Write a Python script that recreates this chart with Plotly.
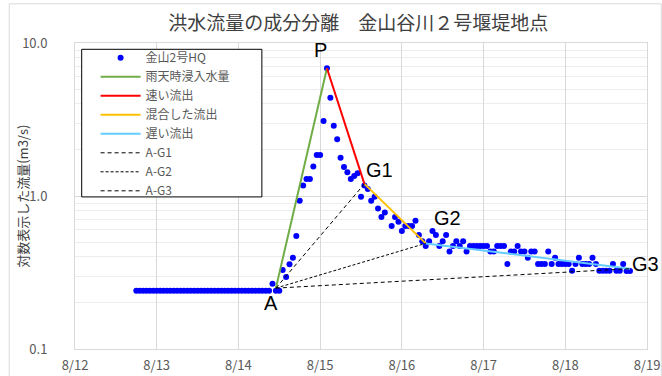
import math
import pandas as pd
import plotly.graph_objects as go

# Hourly H-Q discharge at 金山2号 (hours counted from 8/12 00:00), m3/s
hq_hours = [
    18, 19, 20, 21, 22, 23, 24, 25, 26, 27, 28, 29, 30, 31, 32, 33, 34, 35, 36, 37,
    38, 39, 40, 41, 42, 43, 44, 45, 46, 47, 48, 49, 50, 51, 52, 53, 54, 55, 56, 57,
    58, 59, 60, 61, 62, 63, 64, 65, 66, 67, 68, 69, 70, 71, 72, 73, 74, 75, 76, 77,
    78, 79, 80, 81, 82, 83, 84, 85, 86, 87, 88, 89, 90, 91, 93, 94, 95, 96, 97, 98,
    99, 100, 101, 102, 103, 104, 105, 106, 107, 108, 109, 110, 111, 112, 113, 114,
    115, 116, 117, 118, 119, 120, 121, 122, 123, 124, 125, 126, 127, 128, 129, 130,
    131, 132, 133, 134, 135, 136, 137, 138, 139, 140, 141, 142, 143, 144, 145, 146,
    147, 148, 149, 150, 151, 152, 153, 154, 155, 156, 157, 158, 159, 160, 161, 162, 163,
]
hq_flow = [
    0.24, 0.24, 0.24, 0.24, 0.24, 0.24, 0.24, 0.24, 0.24, 0.24, 0.24, 0.24, 0.24, 0.24,
    0.24, 0.24, 0.24, 0.24, 0.24, 0.24, 0.24, 0.24, 0.24, 0.24, 0.24, 0.24, 0.24, 0.24,
    0.24, 0.24, 0.24, 0.24, 0.24, 0.24, 0.24, 0.24, 0.24, 0.24, 0.24, 0.24,
    0.267, 0.24, 0.24, 0.328, 0.296, 0.358, 0.395, 0.548, 0.932, 1.17, 1.29, 1.29,
    1.56, 1.85, 1.85, 3.09, 6.84, 4.39, 2.88, 2.35, 1.78, 1.55, 1.43, 1.29, 1.35, 1.41,
    0.99, 1.17, 1.11, 0.93, 0.99, 0.83, 0.73, 0.78, 0.637, 0.73, 0.68, 0.59, 0.637,
    0.637, 0.637, 0.69, 0.556, 0.506, 0.471, 0.506, 0.59, 0.556, 0.471, 0.506, 0.556,
    0.433, 0.471, 0.506, 0.471, 0.506, 0.433, 0.471, 0.471, 0.471, 0.471, 0.471, 0.471,
    0.433, 0.433, 0.471, 0.471, 0.471, 0.36, 0.433, 0.433, 0.471, 0.433, 0.433, 0.395,
    0.433, 0.433, 0.36, 0.36, 0.36, 0.433, 0.36, 0.395, 0.36, 0.36, 0.36, 0.36, 0.325,
    0.36, 0.395, 0.36, 0.36, 0.36, 0.395, 0.36, 0.325, 0.325, 0.325, 0.325, 0.36,
    0.325, 0.325, 0.36, 0.324, 0.324,
]

# Separation points (hour, discharge)
point_names = ["A", "P", "G1", "G2", "G3"]
point_hours = [59, 74, 85, 103, 163]
point_flow = [0.25, 6.84, 1.2, 0.49, 0.335]

start = pd.Timestamp("2020-08-12 00:00")


def to_time(hours):
    return [start + pd.Timedelta(hours=h) for h in hours]


pt_time = dict(zip(point_names, to_time(point_hours)))
pt_flow = dict(zip(point_names, point_flow))

x_ticks = pd.date_range("2020-08-12", "2020-08-19", freq="D")
x_ticktext = ["8/12", "8/13", "8/14", "8/15", "8/16", "8/17", "8/18", "8/19"]
y_tickvals = [0.1, 1, 10]
y_ticktext = ["0.1", "1.0", "10.0"]
y_minor = [0.2, 0.3, 0.4, 0.5, 0.6, 0.7, 0.8, 0.9, 2, 3, 4, 5, 6, 7, 8, 9]

JP = "Noto Sans CJK JP"
GREY = "#595959"

fig = go.Figure()

fig.add_trace(go.Scatter(
    x=to_time(hq_hours), y=hq_flow, mode="markers", name="金山2号HQ",
    marker=dict(color="#0000FF", size=6, line=dict(width=0)),
))


def segment(a, b, name, color, width=2, dash="solid"):
    fig.add_trace(go.Scatter(
        x=[pt_time[a], pt_time[b]], y=[pt_flow[a], pt_flow[b]],
        mode="lines", name=name, line=dict(color=color, width=width, dash=dash),
    ))


segment("A", "P", "雨天時浸入水量", "#70AD47")
segment("P", "G1", "速い流出", "#FF0000")
segment("G1", "G2", "混合した流出", "#FFC000")
segment("G2", "G3", "遅い流出", "#66CCFF")
segment("A", "G1", "A-G1", "#000000", 1, "4px,3px")
segment("A", "G2", "A-G2", "#000000", 1, "3px,2px")
segment("A", "G3", "A-G3", "#000000", 1, "4px,3px")

# Point labels (annotation y on a log axis is given as log10)
label_offsets = {"A": (-5, -15), "P": (-6, 18), "G1": (15, 14), "G2": (22, 25), "G3": (16, 5)}
for name in point_names:
    dx, dy = label_offsets[name]
    fig.add_annotation(
        x=pt_time[name], y=math.log10(pt_flow[name]), text=name, showarrow=False,
        xshift=dx, yshift=dy,
        font=dict(family="Liberation Sans", size=20, color="#000000"),
    )

# Rotated y-axis title
fig.add_annotation(
    xref="paper", yref="paper", x=-0.093, y=0.5, xanchor="center", yanchor="middle",
    text="対数表示した流量(m3/s)", textangle=-90, showarrow=False,
    font=dict(family=JP, size=13, color="#404040"),
)

fig.update_layout(
    width=662, height=376,
    margin=dict(l=75, r=15, t=43, b=27, autoexpand=False),
    paper_bgcolor="white", plot_bgcolor="white",
    title=dict(
        text="洪水流量の成分分離　金山谷川２号堰堤地点",
        x=0.541, xanchor="center", y=0.938, yanchor="middle",
        font=dict(family=JP, size=19, color="#404040"),
    ),
    showlegend=True,
    legend=dict(
        x=0.036, y=0.999, xanchor="left", yanchor="top",
        bgcolor="rgba(0,0,0,0)", borderwidth=0,
        font=dict(family=JP, size=12, color=GREY),
        itemwidth=40, tracegroupgap=0,
    ),
    xaxis=dict(
        type="date", automargin=False,
        range=[x_ticks[0], x_ticks[-1]],
        tickvals=list(x_ticks), ticktext=x_ticktext,
        showgrid=True, gridcolor="#D9D9D9", gridwidth=1,
        showline=True, linecolor="#D9D9D9", mirror=True,
        ticks="", zeroline=False,
        ticklabelstandoff=4,
        tickfont=dict(family=JP, size=13, color=GREY),
    ),
    yaxis=dict(
        type="log", range=[-1, 1], automargin=False,
        tickvals=y_tickvals, ticktext=y_ticktext,
        showgrid=True, gridcolor="#D9D9D9", gridwidth=1,
        minor=dict(tickvals=y_minor, showgrid=True, gridcolor="#EDEDED", gridwidth=1, ticks=""),
        showline=True, linecolor="#D9D9D9", mirror=True,
        ticks="", zeroline=False,
        ticklabelstandoff=24,
        tickfont=dict(family=JP, size=13, color=GREY),
    ),
)

# Legend frame and outer chart border
fig.add_shape(type="rect", xref="paper", yref="paper",
              x0=0.0117, x1=0.3267, y0=0.497, y1=0.9794,
              line=dict(color="#000000", width=1), fillcolor="white", layer="above")
fig.add_shape(type="rect", xref="paper", yref="paper",
              x0=-0.115, x1=1.025, y0=-0.12, y1=1.128,
              line=dict(color="#D9D9D9", width=1), fillcolor="rgba(0,0,0,0)", layer="above")

fig.write_html("out.html")
